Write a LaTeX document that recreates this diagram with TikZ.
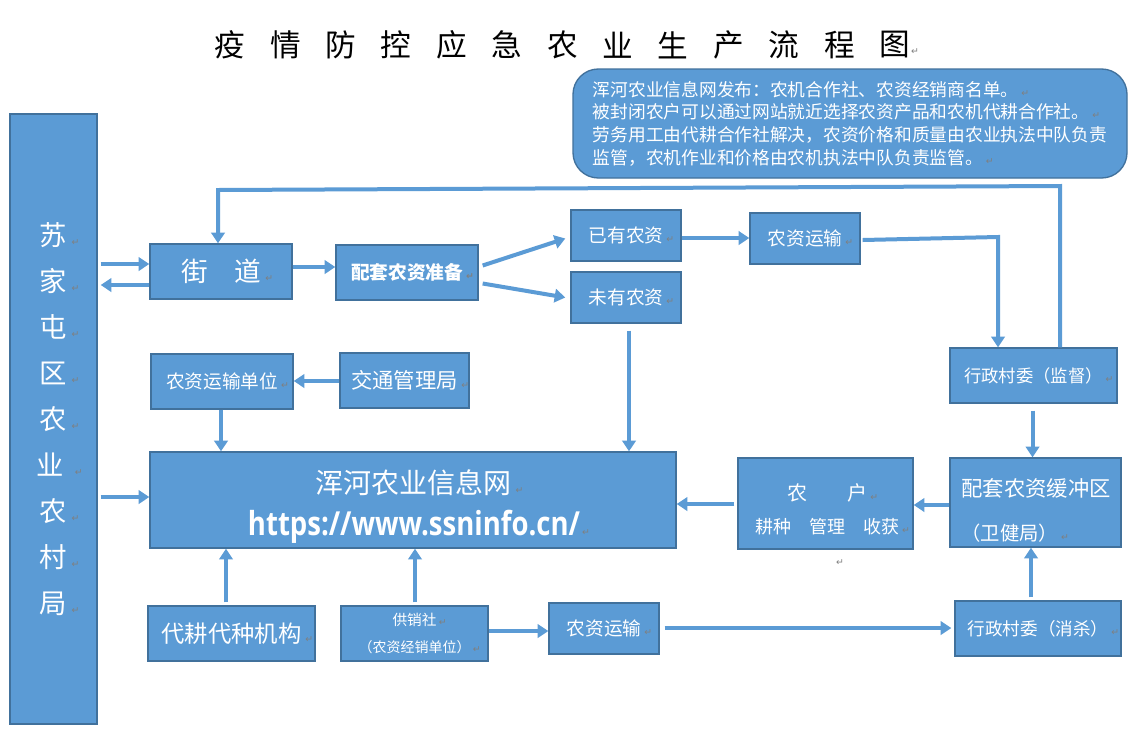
\documentclass[tikz,border=0pt]{standalone}
\usepackage{fontspec}
\setmainfont{Noto Sans CJK SC}
\newfontfamily\dejavu{DejaVu Sans}
\newfontfamily\urlfont{Open Sans}
\usetikzlibrary{arrows.meta,calc}
\definecolor{boxblue}{HTML}{5B9BD5}
\definecolor{boxedge}{HTML}{41719C}
\definecolor{retgray}{HTML}{7F7F7F}
\newcommand\fs[2]{\fontsize{#1}{#2}\selectfont}
\newcommand\retm{\rlap{\,{\dejavu\fontsize{7}{7}\selectfont\color{retgray}↵}}}
\newcommand\mybox[7][]{\node[box,minimum width={(#5-#3)*0.75pt},minimum height={(#6-#4)*0.75pt},#1] (#2) at ({(#3+#5)/2},{(#4+#6)/2}) {#7};}
\begin{document}
\begin{tikzpicture}[x=0.75pt,y=-0.75pt,
 box/.style={draw=boxedge,line width=1pt,fill=boxblue,text=white,inner sep=0pt,align=center},
 btxt/.style={text=white,inner sep=0pt},
 arr/.style={draw=boxblue,line width=3pt,-{Triangle[length=8pt,width=10pt]}},
 titlech/.style={font=\fs{23}{23},text=black,inner sep=0pt},
 ret/.style={font=\dejavu\fs{7}{7},text=retgray,inner sep=0pt}]
\useasboundingbox (0,0) rectangle (1134,729);
\fill[white] (0,0) rectangle (1134,729);
% title
\foreach \c [count=\i from 0] in {疫,情,防,控,应,急,农,业,生,产,流,程,图}
  \node[titlech] (t\i) at ({230+55.4*\i},45) {\c};
\node[ret] (r0) at (915,52) {↵};
% info box
\mybox[rounded corners=19pt,font=\fs{13.3}{17},align=left]{INFO}{573}{69}{1127}{178}{浑河农业信息网发布：农机合作社、农资经销商名单。\retm\\被封闭农户可以通过网站就近选择农资产品和农机代耕合作社。\retm\\劳务用工由代耕合作社解决，农资价格和质量由农业执法中队负责\\监管，农机作业和价格由农机执法中队负责监管。\retm}
% boxes
\mybox[font=\fs{20.5}{34.5}]{L}{10}{114}{97}{724}{苏\retm\\家\retm\\屯\retm\\区\retm\\农\retm\\业\ \retm\\农\retm\\村\retm\\局\retm}
\mybox[font=\fs{20}{20}]{JD}{150}{244}{292}{299}{街　道\retm}
\mybox[font=\bfseries\fs{14}{14}]{PT}{336}{245}{478}{300}{配套农资准备\retm}
\mybox[font=\fs{14}{14}]{YY}{571}{210}{681}{261}{已有农资\retm}
\mybox[font=\fs{14}{14}]{WY}{571}{272}{681}{323}{未有农资\retm}
\mybox[font=\fs{14}{14}]{YS1}{750}{213}{860}{264}{农资运输\retm}
\mybox[font=\fs{13}{13}]{JC}{950}{348}{1117}{403}{行政村委（监督）\retm}
\mybox{HC}{950}{458}{1121}{547}{}
\node[btxt,align=left,font=\fs{16}{33}] (HCt) at (1036,510) {配套农资缓冲区\\{\fs{14.5}{33}（卫健局）\retm}};
\mybox{NH}{738}{458}{913}{549}{}
\node[btxt,font=\fs{15}{15}] (NHa) at (827,493) {农　　户\retm};
\node[btxt,font=\fs{13.5}{13.5}] (NHb) at (827,527) {耕种　管理　收获\retm};
\node[ret] (r1) at (840,563) {↵};
\mybox{XX}{150}{452}{676}{548}{}
\node[btxt,font=\fs{21}{21}] (XXa) at (413,483) {浑河农业信息网\retm};
\node[btxt] (XXb) at (414,527) {\resizebox{249pt}{19pt}{\urlfont\bfseries https://www.ssninfo.cn/}\retm};
\mybox[font=\fs{14}{14}]{DW}{151}{354}{293}{409}{农资运输单位\retm}
\mybox[font=\fs{16}{16}]{JT}{340}{353}{469}{408}{交通管理局\retm}
\mybox[font=\fs{17.5}{17.5}]{DG}{148}{606}{315}{661}{代耕代种机构\retm}
\mybox[font=\fs{11}{20}]{GX}{341}{606}{488}{661}{供销社\retm\\{\fs{10.5}{20}（农资经销单位）\retm}}
\mybox[font=\fs{14}{14}]{YS2}{549}{603}{659}{654}{农资运输\retm}
\mybox[font=\fs{13.2}{13.2}]{XS}{955}{601}{1121}{656}{行政村委（消杀）\retm}
% connectors
\draw[arr] ($(L.east |- 0,264)+(3,0)$) -- (JD.west |- 0,264);
\draw[arr] (JD.west |- 0,285) -- ($(L.east |- 0,285)+(3,0)$);
\draw[arr] (JD.east |- 0,267) -- (PT.west |- 0,267);
\draw[arr] ($(PT.east)+(4,-7)$) -- ($(YY.west)+(-5,3)$);
\draw[arr] ($(PT.east)+(4,11)$) -- ($(WY.west)+(-5,0)$);
\draw[arr] (YY.east |- 0,238) -- (YS1.west |- 0,238);
\coordinate (c1) at (998,237);
\draw[arr] ($(YS1.east |- 0,240)+(2,0)$) -- (c1) -- (c1 |- JC.north);
\coordinate (c2) at (1060,186);
\coordinate (c3) at (218,190);
\draw[arr] (JC.north -| c2) -- (c2) -- (c3) -- (c3 |- JD.north);
\coordinate (w1) at ($(WY.south)+(3,7)$);
\draw[arr] (w1) -- (w1 |- XX.north);
\draw[arr] (DW.south -| 221,0) -- (XX.north -| 221,0);
\draw[arr] (JT.west |- 0,381) -- (DW.east |- 0,381);
\draw[arr] ($(L.east |- 0,497)+(3,0)$) -- (XX.west |- 0,497);
\coordinate (j1) at ($(JC.south)+(-1,7)$);
\draw[arr] (j1) -- (j1 |- HC.north);
\draw[arr] (HC.west |- 0,505) -- (NH.east |- 0,505);
\draw[arr] ($(NH.west |- 0,504)+(-3,0)$) -- (XX.east |- 0,504);
\draw[arr] ($(DG.north -| 226,0)+(0,-3)$) -- (XX.south -| 226,0);
\draw[arr] ($(GX.north -| 415,0)+(0,-3)$) -- (XX.south -| 415,0);
\draw[arr] (GX.east |- 0,631) -- (YS2.west |- 0,631);
\draw[arr] ($(YS2.east |- 0,628)+(5,0)$) -- ($(XS.west |- 0,628)+(-3,0)$);
\draw[arr] ($(XS.north -| 1031,0)+(0,-3)$) -- (HC.south -| 1031,0);
\end{tikzpicture}
\end{document}
